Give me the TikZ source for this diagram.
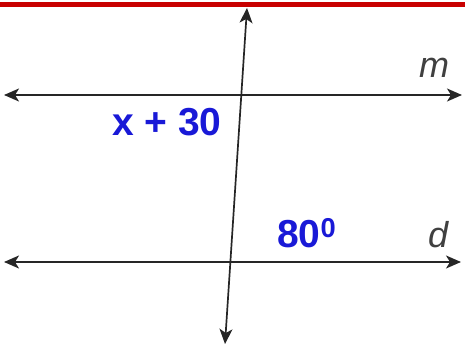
\documentclass[tikz,border=0pt]{standalone}
\usepackage{fontspec}
\setmainfont{Liberation Sans}
\usetikzlibrary{arrows.meta}

\definecolor{faixa}{RGB}{200,0,0}
\definecolor{azul}{RGB}{25,25,215}

\begin{document}
\begin{tikzpicture}[
      x=1pt, y=-1pt,
      reta/.style={{Stealth[length=15pt, width=13pt, inset=4pt]}-{Stealth[length=15pt, width=13pt, inset=4pt]},
                   line width=1.7pt, black!85},
      nome/.style={inner sep=0pt, font=\fontsize{36}{40}\selectfont\itshape, black!75},
      angulo/.style={inner sep=0pt, font=\fontsize{39}{44}\selectfont\bfseries, text=azul}
    ]
    \useasboundingbox (0,0) rectangle (465,347);
    \fill[faixa] (0,2.5) rectangle (465,7.5);
    % retas paralelas e transversal
    \coordinate (m1) at (4,95);
    \coordinate (m2) at (462,95);
    \coordinate (d1) at (4,262);
    \coordinate (d2) at (461,262);
    \coordinate (t1) at (247,8);
    \coordinate (t2) at (225,344);
    \draw[reta] (m1) -- (m2);
    \draw[reta] (d1) -- (d2);
    \draw[reta] (t1) -- (t2);
    % nomes e angulos
    \node[nome, anchor=base west] (nm) at (419,78) {m};
    \node[nome, anchor=base west] (nd) at (428,247) {d};
    \node[angulo, anchor=base west] (a1) at (112,136) {x + 30};
    \node[angulo, anchor=base west] (a2) at (277,247) {80\textsuperscript{0}};
  \end{tikzpicture}
\end{document}
